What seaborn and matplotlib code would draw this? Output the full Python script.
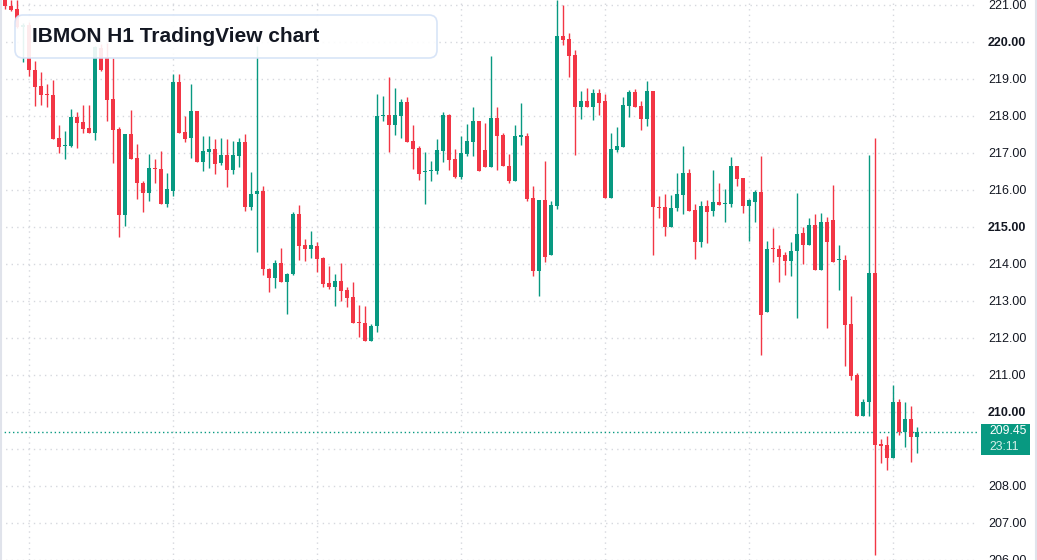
import numpy as np
import pandas as pd
import matplotlib.pyplot as plt
from matplotlib.patches import FancyBboxPatch, Rectangle
import seaborn as sns

# hourly candles (oldest first)
opens = [221.15, 220.97, 220.90, 220.40, 220.46, 219.24, 218.81, 218.59, 218.57, 217.40,
         217.18, 217.19, 217.96, 217.84, 217.68, 217.53, 219.85, 219.60, 218.46, 217.65,
         215.32, 217.51, 216.86, 216.20, 215.93, 216.59, 216.57, 215.63, 215.98, 218.92,
         217.57, 217.41, 218.14, 216.77, 217.04, 217.11, 216.73, 216.95, 216.55, 216.93,
         217.30, 215.55, 215.88, 215.97, 213.86, 213.61, 214.02, 213.50, 213.72, 215.35,
         214.50, 214.41, 214.49, 214.17, 213.49, 213.39, 213.54, 213.31, 213.12, 212.43,
         212.41, 211.93, 212.32, 218.00, 218.03, 217.76, 218.01, 218.38, 217.32, 217.14,
         216.48, 216.52, 216.52, 217.06, 218.03, 216.84, 216.36, 216.98, 217.31, 217.86,
         217.08, 216.63, 217.95, 217.49, 216.66, 216.25, 217.44, 217.46, 215.79, 213.82,
         215.73, 214.24, 215.58, 220.16, 220.08, 219.65, 218.25, 218.41, 218.23, 218.62,
         218.41, 215.79, 217.09, 217.17, 218.28, 218.64, 218.27, 217.93, 218.68, 215.55,
         215.55, 215.01, 215.50, 215.87, 216.46, 215.46, 214.60, 215.57, 215.44, 215.68,
         215.63, 215.63, 216.65, 216.32, 215.58, 215.68, 215.95, 212.71, 214.41, 214.41,
         214.23, 214.09, 214.34, 214.85, 214.50, 215.06, 213.85, 215.14, 215.20, 214.11,
         214.12, 212.39, 211.01, 209.88, 210.26, 213.76, 209.13, 209.10, 208.77, 210.28,
         209.46, 209.80, 209.32]
highs = [221.30, 221.13, 221.13, 220.50, 220.55, 219.49, 219.20, 218.86, 218.97, 217.76,
         217.60, 218.19, 218.12, 218.30, 218.30, 219.90, 219.95, 219.96, 219.56, 217.69,
         217.51, 218.16, 217.24, 216.24, 216.97, 216.84, 217.05, 216.45, 219.14, 219.14,
         218.00, 218.86, 218.14, 217.46, 217.46, 217.38, 217.41, 217.38, 217.32, 217.41,
         217.51, 216.49, 219.90, 216.10, 213.88, 214.12, 214.42, 213.75, 215.41, 215.59,
         214.67, 214.89, 214.59, 214.19, 213.95, 213.73, 214.03, 213.39, 213.51, 212.89,
         212.87, 212.39, 218.59, 218.54, 219.05, 218.76, 218.46, 218.51, 217.76, 217.20,
         217.03, 216.78, 217.38, 218.10, 218.05, 217.11, 217.47, 217.78, 218.25, 217.86,
         217.82, 219.63, 218.23, 217.53, 216.98, 217.76, 218.35, 217.54, 216.11, 215.73,
         216.78, 215.71, 221.13, 221.00, 220.23, 219.78, 218.68, 218.76, 218.73, 218.73,
         218.59, 217.54, 217.70, 218.50, 218.70, 218.72, 218.40, 218.95, 218.68, 215.84,
         215.89, 215.86, 216.46, 217.19, 216.57, 215.62, 215.70, 215.73, 216.54, 216.19,
         216.03, 216.89, 216.65, 216.32, 215.77, 216.00, 216.93, 214.63, 214.98, 214.52,
         214.33, 214.60, 215.93, 215.01, 215.25, 215.36, 215.39, 215.28, 216.14, 214.52,
         214.25, 213.14, 211.06, 210.36, 216.95, 217.41, 209.26, 209.34, 210.72, 210.36,
         210.28, 210.15, 209.60]
lows = [220.90, 220.85, 220.38, 219.47, 219.08, 218.27, 218.30, 218.25, 217.37, 217.00,
        216.85, 217.15, 217.14, 217.55, 217.53, 217.35, 219.22, 217.87, 216.74, 214.74,
        215.03, 216.85, 215.76, 215.41, 215.70, 216.18, 215.63, 215.55, 215.85, 217.55,
        217.31, 216.87, 216.77, 216.52, 216.60, 216.44, 216.68, 216.09, 216.44, 216.63,
        215.44, 215.47, 214.33, 213.70, 213.23, 213.34, 213.50, 212.64, 213.70, 214.11,
        214.09, 214.17, 213.79, 213.39, 213.33, 212.87, 213.00, 212.85, 212.41, 212.04,
        211.93, 211.93, 212.17, 217.87, 217.03, 217.49, 217.40, 217.30, 216.56, 216.28,
        215.62, 216.25, 216.44, 216.77, 216.54, 216.33, 216.31, 216.93, 216.93, 216.50,
        216.63, 216.63, 216.54, 216.66, 216.19, 216.25, 217.22, 215.71, 213.68, 213.14,
        214.06, 214.24, 215.49, 219.93, 219.06, 216.95, 217.93, 218.23, 217.90, 218.04,
        215.79, 215.79, 217.04, 217.17, 217.98, 218.23, 217.62, 217.74, 214.24, 215.23,
        214.77, 215.01, 215.44, 215.36, 215.42, 214.14, 214.47, 214.58, 215.29, 215.60,
        215.14, 215.55, 216.12, 215.39, 214.63, 215.14, 211.55, 212.71, 214.06, 213.50,
        213.69, 213.68, 212.53, 214.01, 214.50, 213.85, 213.85, 212.28, 214.06, 213.31,
        211.25, 210.87, 209.88, 209.88, 209.88, 206.13, 208.61, 208.42, 208.77, 209.37,
        209.05, 208.64, 208.88]
closes = [220.97, 220.86, 220.40, 220.45, 219.23, 218.79, 218.58, 218.57, 217.39, 217.17,
          217.20, 217.98, 217.82, 217.66, 217.55, 219.87, 219.24, 218.43, 217.62, 215.32,
          217.51, 216.85, 216.20, 215.93, 216.59, 216.57, 215.63, 216.03, 218.92, 217.55,
          217.39, 218.14, 216.77, 217.05, 217.11, 216.71, 216.95, 216.55, 216.95, 217.30,
          215.55, 215.88, 215.97, 213.86, 213.61, 214.02, 213.50, 213.73, 215.35, 214.49,
          214.41, 214.50, 214.13, 213.47, 213.39, 213.54, 213.28, 213.09, 212.41, 212.41,
          211.93, 212.32, 218.00, 218.04, 217.76, 218.03, 218.38, 217.30, 217.12, 216.44,
          216.50, 216.54, 217.07, 218.03, 216.82, 216.36, 217.00, 217.32, 217.86, 216.50,
          216.63, 217.95, 217.47, 216.66, 216.25, 217.46, 217.49, 215.76, 213.82, 215.73,
          214.20, 215.59, 220.16, 220.06, 219.63, 218.25, 218.41, 218.23, 218.62, 218.36,
          215.79, 217.11, 217.19, 218.30, 218.64, 218.25, 217.93, 218.68, 215.55, 215.50,
          215.01, 215.51, 215.89, 216.46, 215.44, 214.60, 215.57, 215.41, 215.68, 215.60,
          215.65, 216.65, 216.31, 215.58, 215.73, 215.95, 212.63, 214.41, 214.40, 214.18,
          214.09, 214.36, 214.82, 214.50, 215.06, 213.85, 215.14, 214.60, 214.06, 214.13,
          212.36, 210.98, 209.88, 210.28, 213.76, 209.10, 209.07, 208.75, 210.28, 209.46,
          209.80, 209.32, 209.45]

price_ticks = list(range(206, 222))
bold_ticks = [210, 215, 220]
hidden_ticks = [209]  # sits under the last-price tag
last_price = 209.45
countdown = "23:11"
title = "IBMON H1 TradingView chart"

GREEN = "#089981"
RED = "#f23645"
TEXT = "#131722"
GRID = "#d6d8de"

sns.set_style("white")
plt.rcParams['font.family'] = ['Liberation Sans', 'DejaVu Sans']

df = pd.DataFrame({'open': opens, 'high': highs, 'low': lows, 'close': closes})
df['idx'] = np.arange(len(df))
df['up'] = df['close'] >= df['open']
df['color'] = np.where(df['up'], GREEN, RED)
df['bottom'] = df[['open', 'close']].min(axis=1)
df['height'] = (df['close'] - df['open']).abs().clip(lower=0.03)

W, H = 1037, 560
fig = plt.figure(figsize=(W / 100, H / 100), dpi=100)
ax = fig.add_axes([0, 0, 977 / W, 1])

# wicks then bodies
ax.vlines(df['idx'], df['low'], df['high'], colors=df['color'], linewidth=1, zorder=3)
ax.bar(df['idx'], df['height'], bottom=df['bottom'], width=0.8, color=df['color'],
       linewidth=0, zorder=4)

ax.axhline(last_price, color=GREEN, linestyle=(0, (1, 2)), linewidth=1, zorder=2)

ax.set_xlim(-5 / 6, (977 - 5) / 6)
ax.set_ylim(206.0, 221.135)

ax.set_xticks(range(4, len(df) + 10, 24))
ax.set_xticklabels([])
ax.set_yticks(price_ticks)
ax.set_yticklabels(["" if v in hidden_ticks else f"{v:.2f}" for v in price_ticks])
ax.yaxis.tick_right()
ax.tick_params(axis='y', length=0, pad=8, labelsize=9, labelcolor=TEXT)
ax.tick_params(axis='x', length=0)
for lbl, v in zip(ax.get_yticklabels(), price_ticks):
    if v in bold_ticks:
        lbl.set_fontweight('bold')
ax.grid(True, color=GRID, linestyle=(0, (1, 3)), linewidth=1)
sns.despine(ax=ax, left=True, bottom=True, right=True, top=True)

# last price tag
fig.patches.append(Rectangle((981 / W, 1 - 455 / H), 49 / W, 31 / H, transform=fig.transFigure,
                             facecolor=GREEN, edgecolor='none', zorder=5))
fig.text(989 / W, 1 - 431 / H, f"{last_price:.2f}", color='white', fontsize=8.8,
         va='center', ha='left', zorder=6)
fig.text(989 / W, 1 - 447 / H, countdown, color='#d5f0ea', fontsize=8.8,
         va='center', ha='left', zorder=6)

# frame edges
fig.add_artist(plt.Line2D([0.5 / W, 0.5 / W], [0, 1], transform=fig.transFigure, color='#e0e3eb', lw=1.5))
fig.add_artist(plt.Line2D([1035.5 / W, 1035.5 / W], [0, 1], transform=fig.transFigure, color='#e0e3eb', lw=1.5))

# title box
box = FancyBboxPatch((0.15, (H - 58) / 100), 4.22, 0.43, boxstyle="round,pad=0,rounding_size=0.08",
                     transform=fig.dpi_scale_trans, facecolor='white', alpha=0.9,
                     edgecolor='#d4e2f7', linewidth=1.2, zorder=10)
fig.patches.append(box)
fig.text(32 / W, 1 - 37 / H, title, fontsize=15, fontweight='bold', color=TEXT,
         va='center', ha='left', zorder=11)

fig.savefig("out.png", dpi=100)
